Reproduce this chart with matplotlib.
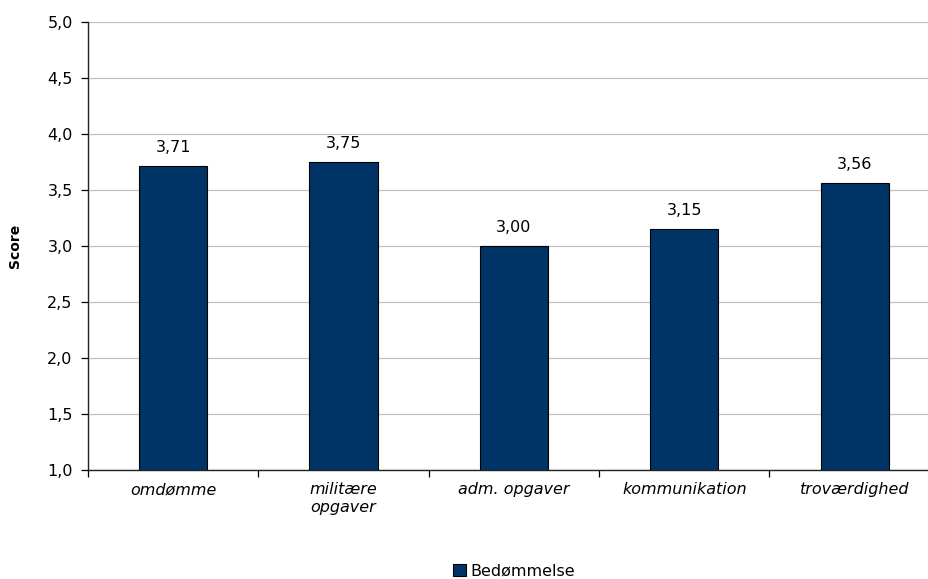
import matplotlib.pyplot as plt
from matplotlib.ticker import FuncFormatter, MultipleLocator
from matplotlib.patches import Patch

categories = ['omdømme', 'militære\nopgaver', 'adm. opgaver', 'kommunikation', 'troværdighed']
scores = [3.71, 3.75, 3.00, 3.15, 3.56]
series_name = 'Bedømmelse'

bar_color = '#003366'

fig = plt.figure(figsize=(9.29, 5.79), dpi=100)
ax = fig.add_axes([0.0947, 0.1883, 0.917, 0.7737])

x = list(range(len(categories)))
bars = ax.bar(x, scores, width=0.4, bottom=0, color=bar_color,
              edgecolor='black', linewidth=0.8, zorder=3)

for xi, v in zip(x, scores):
    ax.text(xi, v + 0.1, f'{v:.2f}'.replace('.', ','), ha='center', va='bottom',
            fontsize=11.5)

ax.set_ylim(1.0, 5.0)
ax.set_xlim(-0.5, len(categories) - 0.5)
ax.yaxis.set_major_locator(MultipleLocator(0.5))
ax.yaxis.set_major_formatter(FuncFormatter(lambda v, p: f'{v:.1f}'.replace('.', ',')))
ax.grid(axis='y', color='#c0c0c0', linewidth=0.9, zorder=0)

# ticks sit on the boundaries between categories, labels in the middle
ax.set_xticks([i - 0.5 for i in range(len(categories) + 1)])
ax.set_xticklabels([])
ax.set_xticks(x, minor=True)
ax.set_xticklabels(categories, minor=True, fontsize=11.5, style='italic')
ax.tick_params(axis='x', which='minor', length=0, pad=9)
ax.tick_params(axis='x', which='major', length=5, width=0.9)
ax.tick_params(axis='y', length=5, width=0.9, labelsize=11.5, pad=6)

for side in ['top', 'right']:
    ax.spines[side].set_visible(False)
for side in ['left', 'bottom']:
    ax.spines[side].set_linewidth(1.0)
    ax.spines[side].set_color('#222222')

ax.set_ylabel('Score', fontsize=10, fontweight='bold', labelpad=18)

ax.legend(handles=[Patch(facecolor=bar_color, edgecolor='black', linewidth=0.8, label=series_name)],
          loc='center', bbox_to_anchor=(0.5, -0.225), frameon=False,
          fontsize=11.5, handlelength=0.8, handleheight=0.8, handletextpad=0.3,
          borderpad=0)

fig.savefig('out.png', dpi=100)
